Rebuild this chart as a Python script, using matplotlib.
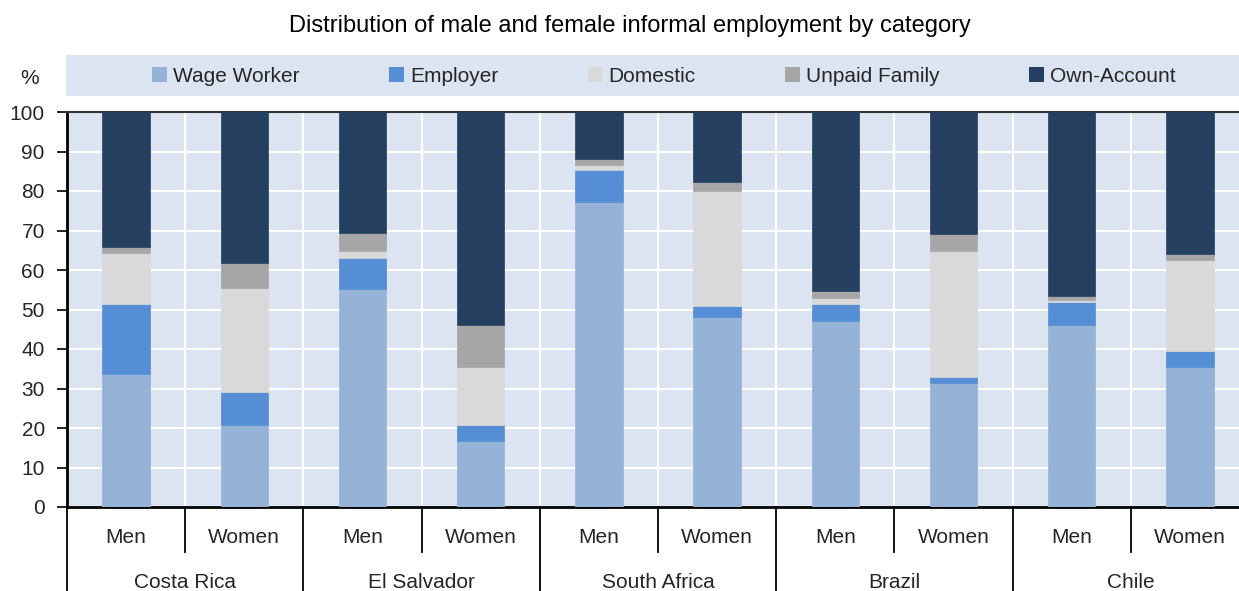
import numpy as np
import matplotlib.pyplot as plt
from matplotlib.patches import Patch, Rectangle
from matplotlib import transforms

plt.rcParams['font.family'] = ['Liberation Sans', 'DejaVu Sans']

countries = ['Costa Rica', 'El Salvador', 'South Africa', 'Brazil', 'Chile']
sexes = ['Men', 'Women']

# shares (%) per bar, order: CR M/W, ES M/W, SA M/W, BR M/W, CL M/W
wage_worker = [33.6, 20.8, 55.1, 16.8, 77.3, 48.0, 47.1, 31.5, 46.1, 35.5]
employer = [17.8, 8.3, 7.9, 3.9, 8.0, 2.9, 4.3, 1.3, 5.8, 4.0]
domestic = [13.0, 26.4, 1.8, 14.8, 1.3, 29.0, 1.4, 32.0, 0.5, 23.1]
unpaid_family = [1.4, 6.2, 4.5, 10.7, 1.4, 2.3, 1.8, 4.4, 0.9, 1.4]
own_account = [34.2, 38.3, 30.7, 53.8, 12.0, 17.8, 45.4, 30.8, 46.7, 36.0]

series = [
    ('Wage Worker', wage_worker, '#95B3D7'),
    ('Employer', employer, '#558ED5'),
    ('Domestic', domestic, '#D9D9D9'),
    ('Unpaid Family', unpaid_family, '#A6A6A6'),
    ('Own-Account', own_account, '#243F60'),
]

bg = '#DCE4F1'
txt = '#262626'

fig = plt.figure(figsize=(12.39, 5.91), dpi=100)
ax = fig.add_axes([67 / 1239, 1 - 507 / 591, (1249 - 67) / 1239, (507 - 112) / 591])
ax.set_facecolor(bg)

x = np.arange(len(wage_worker))
bottom = np.zeros(len(x))
for name, vals, col in series:
    vals = np.array(vals)
    ax.bar(x, vals, width=0.4, bottom=bottom, color=col, edgecolor=col,
           linewidth=0.5, zorder=3)
    bottom += vals

ax.set_xlim(-0.5, len(x) - 0.5)
ax.set_ylim(0, 100)
ax.set_yticks(np.arange(0, 101, 10))
ax.set_xticks(np.arange(0.5, len(x) - 0.5, 1), minor=False)
ax.tick_params(axis='x', length=0, labelbottom=False)
ax.tick_params(axis='y', length=7, width=1.2, direction='out',
               labelsize=15, labelcolor=txt, pad=9)
ax.grid(True, color='white', linewidth=1.5, zorder=1)
ax.set_axisbelow(True)

for s in ['left', 'bottom']:
    ax.spines[s].set_linewidth(2)
    ax.spines[s].set_color('black')
ax.spines['top'].set_linewidth(1.5)
ax.spines['top'].set_color('#333333')
ax.spines['right'].set_visible(False)

# two-level category axis under the bars
tr = transforms.blended_transform_factory(ax.transData, ax.transAxes)
for i in range(len(x)):
    ax.text(i, -0.076, sexes[i % 2], transform=tr, ha='center', va='center',
            fontsize=15, color=txt)
for j, c in enumerate(countries):
    ax.text(2 * j + 0.5, -0.19, c, transform=tr, ha='center', va='center',
            fontsize=15, color=txt)
for k in range(len(x) + 1):
    xb = k - 0.5
    y_end = -0.115 if k % 2 == 1 else -0.3
    ax.plot([xb, xb], [0, y_end], transform=tr, color='black', lw=1.3,
            clip_on=False, zorder=5)

# legend strip above the plot
fig.patches.append(Rectangle((66 / 1239, 1 - 96 / 591), 1.0, 41 / 591,
                             transform=fig.transFigure, facecolor=bg,
                             edgecolor='none', zorder=0))
handles = [Patch(facecolor=col, edgecolor='none', label=name) for name, _, col in series]
fig.legend(handles=handles, loc='center', bbox_to_anchor=(664 / 1239, 1 - 76 / 591),
           ncol=5, frameon=False, fontsize=15, handlelength=0.7, handleheight=0.7,
           handletextpad=0.3, columnspacing=4.3, labelcolor=txt)

fig.text(30 / 1239, 1 - 79 / 591, '%', ha='center', va='center', fontsize=15, color=txt)
fig.text(630 / 1239, 1 - 26 / 591,
         'Distribution of male and female informal employment by category',
         ha='center', va='center', fontsize=17, color='black')

fig.savefig('out.png', dpi=100)
